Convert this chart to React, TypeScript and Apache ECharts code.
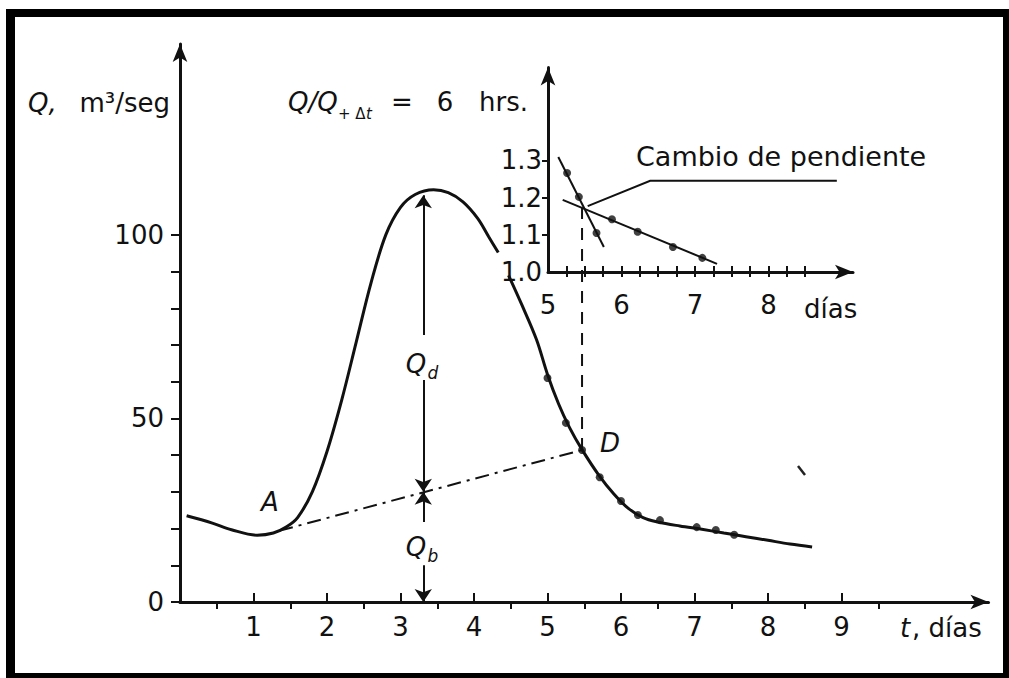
import React, { useEffect, useRef } from 'react';
import * as echarts from 'echarts';

// Main hydrograph (t in days, Q in m3/s); NaN marks the gap hidden behind the inset label
const hydroT = [0.09, 0.44, 0.7, 1.05, 1.27, 1.45, 1.6, 1.8, 2.0, 2.2, 2.4, 2.6, 2.8, 3.0, 3.2, 3.45, 3.65, 3.85, 4.05, 4.2, 4.33, 4.4, 4.47, 4.65, 4.85, 5.0, 5.15, 5.3, 5.47, 5.7, 5.9, 6.1, 6.3, 6.5, 6.8, 7.1, 7.4, 7.7, 8.0, 8.3, 8.6];
const hydroQ = [23.5, 21.5, 19.7, 18.2, 18.8, 20.5, 23, 30, 41, 55, 71, 87, 100, 107.5, 111, 112.3, 111.5, 109, 104.5, 99.5, 95.2, NaN, 89, 81, 71.5, 62, 54, 47.5, 41.5, 34.5, 29.5, 25.5, 23, 21.8, 20.7, 19.8, 18.8, 17.8, 16.8, 15.8, 15.0];
// Measured points on the recession limb
const recessT = [5.0, 5.25, 5.47, 5.71, 6.0, 6.23, 6.53, 7.03, 7.29, 7.54];
const recessQ = [61, 48.8, 41.4, 34, 27.5, 23.7, 22.3, 20.4, 19.6, 18.3];
// Base-flow separation line A -> D
const baseT = [1.35, 5.47];
const baseQ = [19.4, 41.4];
// Dashed vertical from D to the slope change
const dashT = [5.47, 5.47];
const dashQ = [41.4, 107.3];
// Qd / Qb arrows (t, from Q, to Q)
const arrowT = 3.31;
const arrowFrom = [72.7, 60.5, 21.8, 10];
const arrowTo = [110.8, 30, 30, 0];

// Inset: Q/Q(+6h) ratio
const steepT = [5.14, 5.76];
const steepR = [1.309, 1.067];
const steepDotT = [5.26, 5.42, 5.66];
const steepDotR = [1.266, 1.202, 1.105];
const shallowT = [5.2, 7.3];
const shallowR = [1.194, 1.022];
const shallowDotT = [5.87, 6.22, 6.7, 7.1];
const shallowDotR = [1.142, 1.108, 1.067, 1.038];
const leaderT = [8.93, 6.39, 5.54];
const leaderR = [1.245, 1.245, 1.177];

const mainXLabels = [1, 2, 3, 4, 5, 6, 7, 8, 9];
const mainXMinor = [0.5, 1.5, 2.5, 3.5, 4.5, 5.5, 6.5, 7.5, 8.5, 9.5];
const mainYTicks = [0, 10, 20, 30, 40, 50, 60, 70, 80, 90, 100];
const mainYLabels = [0, 50, 100];
const insetXLabels = [5, 6, 7, 8];
const insetXTicks = [5.25, 5.5, 5.75, 6, 6.25, 6.5, 6.75, 7, 7.25, 7.5, 7.75, 8, 8.25, 8.5];
const insetYLabels = [1.0, 1.1, 1.2, 1.3];
const insetYTicks = [1.1, 1.2, 1.3];

const FF = '"DejaVu Sans", sans-serif';
const INK = '#111';

const zip = (a: number[], b: number[]) => a.map((v, i) => [v, Number.isNaN(b[i]) ? '-' : b[i]]);

const axisLine = {
  show: true,
  onZero: false,
  symbol: ['none', 'arrow'],
  symbolSize: [11, 18],
  lineStyle: { color: INK, width: 3 },
};
const labelStyle = { fontFamily: FF, fontSize: 26, color: INK };

function txt(x: number, y: number, text: string, size = 26, italic = false, align = 'left') {
  return {
    type: 'text',
    x,
    y,
    z: 100,
    style: {
      text,
      font: `${italic ? 'italic ' : ''}${size}px "DejaVu Sans", sans-serif`,
      fill: INK,
      textAlign: align,
      textVerticalAlign: 'middle',
    },
  };
}

export default function App() {
  const ref = useRef<HTMLDivElement>(null);
  useEffect(() => {
    const chart = echarts.init(ref.current!, null, { renderer: 'svg' });
    const option: any = {
      animation: false,
      backgroundColor: '#fff',
      grid: [
        { left: 180, top: 44, width: 808.5, height: 558 },
        { left: 548, top: 67.4, width: 305, height: 204.6 },
      ],
      xAxis: [
        {
          gridIndex: 0, type: 'value', position: 'bottom', min: 0, max: 11, interval: 1,
          axisLine,
          axisTick: { show: true, inside: true, length: 9, customValues: mainXLabels, lineStyle: { color: INK, width: 2 } },
          axisLabel: { ...labelStyle, margin: 12, customValues: mainXLabels },
          splitLine: { show: false },
        },
        {
          gridIndex: 0, type: 'value', position: 'bottom', min: 0, max: 11, interval: 0.5,
          axisLine: { show: false, onZero: false },
          axisTick: { show: true, inside: false, length: 7, customValues: mainXMinor, lineStyle: { color: INK, width: 2 } },
          axisLabel: { show: false },
          splitLine: { show: false },
        },
        {
          gridIndex: 1, type: 'value', position: 'bottom', min: 5, max: 9.15, interval: 1,
          axisLine,
          axisTick: { show: true, inside: true, length: 6, customValues: insetXTicks, lineStyle: { color: INK, width: 2 } },
          axisLabel: { ...labelStyle, margin: 20, customValues: insetXLabels },
          splitLine: { show: false },
        },
        {
          gridIndex: 1, type: 'value', position: 'bottom', min: 5, max: 9.15, interval: 0.25,
          axisLine: { show: false, onZero: false },
          axisTick: { show: true, inside: false, length: 5, customValues: insetXTicks, lineStyle: { color: INK, width: 2 } },
          axisLabel: { show: false },
          splitLine: { show: false },
        },
      ],
      yAxis: [
        {
          gridIndex: 0, type: 'value', min: 0, max: 152, interval: 10,
          axisLine,
          axisTick: { show: true, inside: false, length: 9, customValues: mainYTicks, lineStyle: { color: INK, width: 2 } },
          axisLabel: { ...labelStyle, margin: 16, customValues: mainYLabels },
          splitLine: { show: false },
        },
        {
          gridIndex: 1, type: 'value', min: 1, max: 1.55, interval: 0.1,
          axisLine,
          axisTick: { show: true, inside: false, length: 6, customValues: insetYTicks, lineStyle: { color: INK, width: 2 } },
          axisLabel: {
            ...labelStyle,
            margin: 6,
            customValues: insetYLabels,
            formatter: (v: number) => v.toFixed(1),
          },
          splitLine: { show: false },
        },
      ],
      series: [
        {
          type: 'line', xAxisIndex: 0, yAxisIndex: 0, data: zip(hydroT, hydroQ),
          smooth: 0.35, showSymbol: false, connectNulls: false, lineStyle: { color: INK, width: 3 }, z: 3,
        },
        {
          type: 'scatter', xAxisIndex: 0, yAxisIndex: 0, data: zip(recessT, recessQ),
          symbolSize: 8, itemStyle: { color: INK }, z: 4,
        },
        {
          type: 'line', xAxisIndex: 0, yAxisIndex: 0, data: zip(baseT, baseQ),
          showSymbol: false, lineStyle: { color: INK, width: 2, type: [14, 6, 3, 6] },
        },
        {
          type: 'line', xAxisIndex: 0, yAxisIndex: 0, data: zip(dashT, dashQ),
          showSymbol: false, lineStyle: { color: INK, width: 2, type: [12, 9] },
        },
        {
          type: 'lines', coordinateSystem: 'cartesian2d', xAxisIndex: 0, yAxisIndex: 0,
          symbol: ['none', 'arrow'], symbolSize: 13,
          lineStyle: { color: INK, width: 2, opacity: 1 },
          data: arrowFrom.map((f, i) => ({ coords: [[arrowT, f], [arrowT, arrowTo[i]]] })),
        },
        {
          type: 'line', xAxisIndex: 2, yAxisIndex: 1, data: zip(steepT, steepR),
          showSymbol: false, lineStyle: { color: INK, width: 2 },
        },
        {
          type: 'line', xAxisIndex: 2, yAxisIndex: 1, data: zip(shallowT, shallowR),
          showSymbol: false, lineStyle: { color: INK, width: 2 },
        },
        {
          type: 'scatter', xAxisIndex: 2, yAxisIndex: 1,
          data: zip(steepDotT, steepDotR).concat(zip(shallowDotT, shallowDotR)),
          symbolSize: 8, itemStyle: { color: INK },
        },
        {
          type: 'lines', coordinateSystem: 'cartesian2d', xAxisIndex: 2, yAxisIndex: 1,
          polyline: true, symbol: ['none', 'arrow'], symbolSize: 14,
          lineStyle: { color: INK, width: 2, opacity: 1 },
          data: [{ coords: zip(leaderT, leaderR) }],
        },
      ],
      graphic: [
        { type: 'rect', z: 100, shape: { x: 6, y: 9, width: 1003, height: 8 }, style: { fill: '#000' } },
        { type: 'rect', z: 100, shape: { x: 6, y: 9, width: 9, height: 669 }, style: { fill: '#000' } },
        { type: 'rect', z: 100, shape: { x: 1003, y: 9, width: 6, height: 669 }, style: { fill: '#000' } },
        { type: 'rect', z: 100, shape: { x: 6, y: 673, width: 1003, height: 5 }, style: { fill: '#000' } },
        { type: 'line', z: 100, shape: { x1: 798, y1: 466, x2: 805, y2: 475 }, style: { stroke: '#222', lineWidth: 2.5 } },
        txt(28, 103, 'Q,', 26, true),
        txt(170, 103, 'm³/seg', 26, false, 'right'),
        txt(288, 102, 'Q/Q', 26, true),
        txt(338, 114, '+ Δ', 15),
        txt(366, 114, 't', 15, true),
        txt(402, 102, '=', 26, false, 'center'),
        txt(445, 102, '6', 26, false, 'center'),
        txt(479, 102, 'hrs.', 26),
        txt(636, 156, 'Cambio de pendiente', 27),
        txt(270, 502, 'A', 26, true, 'center'),
        txt(610, 443, 'D', 26, true, 'center'),
        txt(416, 364, 'Q', 26, true, 'center'),
        txt(433, 373, 'd', 17, true, 'center'),
        txt(416, 547, 'Q', 26, true, 'center'),
        txt(433, 556, 'b', 17, true, 'center'),
        txt(900, 628, 't', 26, true),
        txt(912, 628, ', días', 26),
        txt(804, 309, 'días', 26),
      ],
    };
    chart.setOption(option);
    return () => chart.dispose();
  }, []);
  return (
    <div
      ref={ref}
      style={{ position: 'absolute', left: 0, top: 0, width: 1009, height: 678, background: '#fff' }}
    />
  );
}
